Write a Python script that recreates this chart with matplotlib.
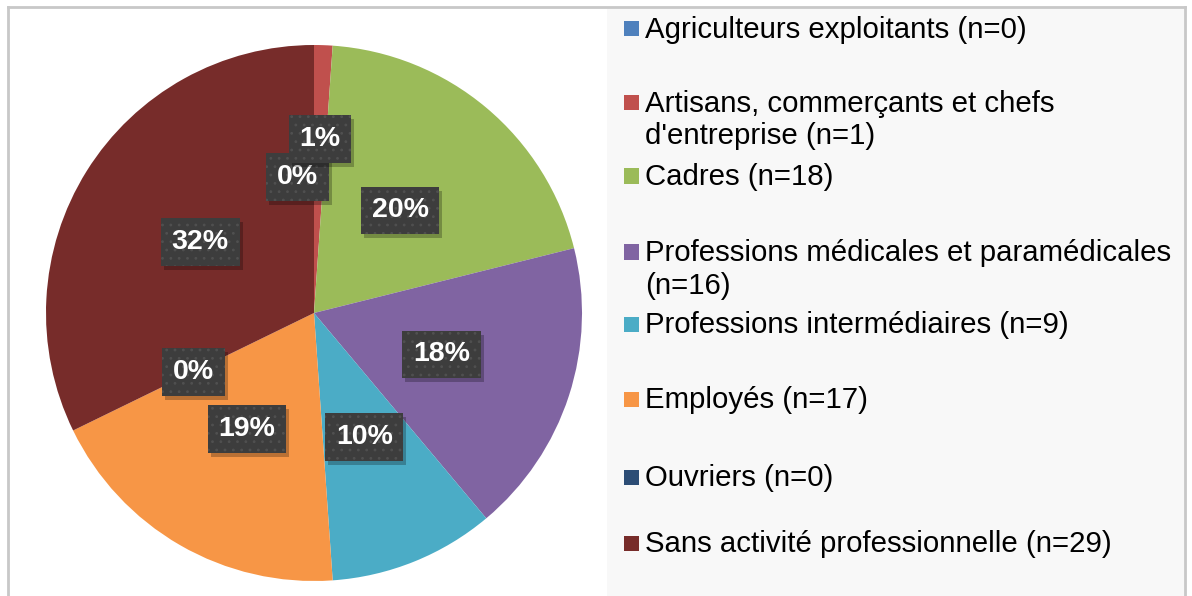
import matplotlib
matplotlib.use("Agg")
import matplotlib.pyplot as plt
from matplotlib.patches import Rectangle
from matplotlib.lines import Line2D
from matplotlib.transforms import IdentityTransform
import numpy as np

plt.rcParams['font.family'] = ['Liberation Sans', 'DejaVu Sans']
plt.rcParams['hatch.linewidth'] = 0.8

# data
categories = ["Agriculteurs exploitants (n=0)",
              "Artisans, commerçants et chefs\nd'entreprise (n=1)",
              "Cadres (n=18)",
              "Professions médicales et paramédicales\n(n=16)",
              "Professions intermédiaires (n=9)",
              "Employés (n=17)",
              "Ouvriers (n=0)",
              "Sans activité professionnelle (n=29)"]
counts = [0, 1, 18, 16, 9, 17, 0, 29]
colors = ['#4F81BD', '#C0504D', '#9BBB59', '#8064A2',
          '#4BACC6', '#F79646', '#2C4D75', '#772C2A']

W, H = 1192, 596
fig = plt.figure(figsize=(W / 100, H / 100), dpi=100)
fig.patch.set_facecolor('white')

# legend background and chart border (pixel -> figure coords)
def fx(x):
    return x / W

def fy(y):
    return 1 - y / H

fig.patches.append(Rectangle((fx(607), 0), fx(1184) - fx(607), fy(9),
                             transform=fig.transFigure, fc='#F8F8F8', ec='none', zorder=0))
for xs, ys in [([8, 8], [7, 600]), ([8, 1185], [7, 7]), ([1185, 1185], [7, 600])]:
    fig.add_artist(Line2D([fx(v) for v in xs], [fy(v) for v in ys],
                          transform=fig.transFigure, color='#C8C8C8', lw=2))

# pie
cx, cy, R = 314, 313, 268
ax = fig.add_axes([fx(cx - R), fy(cy + R), 2 * R / W, 2 * R / H])
ax.pie(counts, colors=colors, startangle=90, counterclock=False,
       radius=1, wedgeprops=dict(linewidth=0))
ax.set_xlim(-1, 1)
ax.set_ylim(-1, 1)
ax.axis('off')

total = sum(counts)
cum = np.cumsum([0] + counts[:-1])
# label radius / angle tweaks for the tiny slices
r_over = {0: 0.51, 1: 0.65}
a_over = {0: 6.8}
labels = []
for i, v in enumerate(counts):
    mid = 90 - 360 * (cum[i] + v / 2) / total + a_over.get(i, 0)
    r = r_over.get(i, 0.5)
    x = r * np.cos(np.radians(mid))
    y = r * np.sin(np.radians(mid))
    t = ax.text(x, y, f"{round(100 * v / total)}%", ha='center', va='center',
                color='white', fontsize=20.5, fontweight='bold', zorder=5 + i * 0.1,
                bbox=dict(boxstyle='square,pad=0.38', fc='#3D3D3D', ec='#505050',
                          lw=0, hatch='..'))
    labels.append(t)

# soft shadows under the label boxes
fig.canvas.draw()
rend = fig.canvas.get_renderer()
for t in labels:
    bb = t.get_bbox_patch().get_window_extent(rend)
    ax.add_artist(Rectangle((bb.x0 + 3, bb.y0 - 4), bb.width, bb.height,
                            transform=IdentityTransform(), fc='black', ec='none',
                            alpha=0.25, zorder=t.get_zorder() - 0.05))

# legend (manual, to match layout)
marker_y = [28.5, 102.5, 176, 252, 324, 399, 477, 543.5]
for lab, col, my in zip(categories, colors, marker_y):
    fig.patches.append(Rectangle((fx(624), fy(my + 7.5)), 15 / W, 15 / H,
                                 transform=fig.transFigure, fc=col, ec='none'))
    for k, line in enumerate(lab.split('\n')):
        fig.text(fx(645), fy(my + 9 + 33 * k), line, fontsize=21.2,
                 color='black', ha='left', va='baseline')

fig.savefig('out.png', dpi=100)
